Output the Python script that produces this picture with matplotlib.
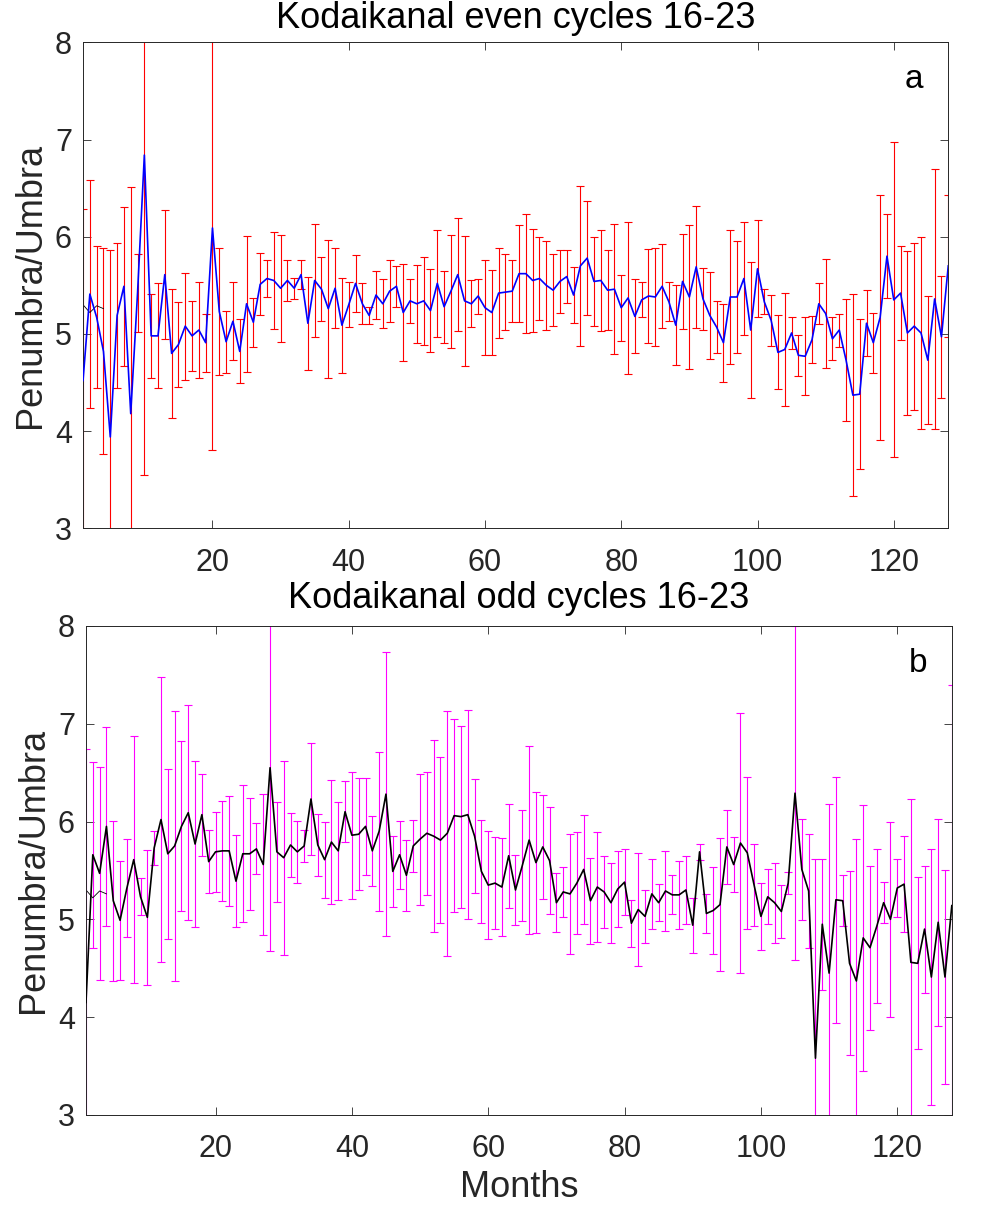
"""Penumbra/Umbra ratio per month, Kodaikanal even and odd cycles 16-23."""

import numpy as np
import matplotlib
matplotlib.use("Agg")
import matplotlib.pyplot as plt

plt.rcParams['font.family'] = ['Liberation Sans', 'DejaVu Sans']

months = np.arange(1, 129)

even_mean = [
    4.52, 5.41, 5.17, 4.82, 3.94, 5.19, 5.49, 4.18, 5.42, 6.84,
    4.98, 4.98, 5.61, 4.80, 4.89, 5.08, 4.98, 5.04, 4.91, 6.09,
    5.23, 4.92, 5.13, 4.82, 5.31, 5.12, 5.51, 5.57, 5.55, 5.47,
    5.55, 5.47, 5.61, 5.11, 5.55, 5.46, 5.26, 5.47, 5.09, 5.30,
    5.52, 5.31, 5.19, 5.40, 5.31, 5.44, 5.49, 5.22, 5.34, 5.31,
    5.34, 5.24, 5.52, 5.28, 5.44, 5.61, 5.34, 5.31, 5.39, 5.27,
    5.22, 5.42, 5.43, 5.44, 5.62, 5.62, 5.55, 5.57, 5.50, 5.45,
    5.54, 5.59, 5.40, 5.70, 5.78, 5.54, 5.55, 5.45, 5.46, 5.27,
    5.37, 5.18, 5.35, 5.39, 5.38, 5.49, 5.33, 5.09, 5.54, 5.38,
    5.69, 5.36, 5.19, 5.07, 4.91, 5.38, 5.38, 5.57, 5.04, 5.67,
    5.33, 5.14, 4.81, 4.84, 5.01, 4.78, 4.77, 4.94, 5.31, 5.21,
    4.95, 5.04, 4.73, 4.37, 4.38, 5.11, 4.91, 5.17, 5.80, 5.35,
    5.42, 5.01, 5.08, 5.01, 4.73, 5.36, 4.97, 5.70,
]
even_err = [
    1.77, 1.17, 0.73, 1.06, 1.92, 0.75, 0.82, 2.33, 0.40, 3.29,
    0.43, 0.54, 0.66, 0.66, 0.44, 0.55, 0.36, 0.49, 0.30, 2.28,
    0.65, 0.32, 0.40, 0.33, 0.70, 0.25, 0.32, 0.19, 0.50, 0.55,
    0.21, 0.11, 0.15, 0.48, 0.58, 0.33, 0.71, 0.41, 0.49, 0.23,
    0.29, 0.21, 0.09, 0.25, 0.25, 0.32, 0.21, 0.50, 0.23, 0.40,
    0.45, 0.43, 0.55, 0.37, 0.58, 0.58, 0.67, 0.24, 0.18, 0.49,
    0.44, 0.46, 0.39, 0.32, 0.50, 0.61, 0.53, 0.43, 0.46, 0.37,
    0.32, 0.27, 0.29, 0.82, 0.59, 0.46, 0.52, 0.41, 0.67, 0.34,
    0.78, 0.38, 0.18, 0.48, 0.50, 0.43, 0.20, 0.41, 0.49, 0.74,
    0.63, 0.32, 0.45, 0.27, 0.40, 0.69, 0.58, 0.58, 0.70, 0.50,
    0.13, 0.26, 0.38, 0.58, 0.16, 0.21, 0.40, 0.24, 0.21, 0.56,
    0.22, 0.17, 0.63, 1.04, 0.77, 0.34, 0.31, 1.26, 0.43, 1.62,
    0.48, 0.84, 0.86, 0.99, 0.66, 1.34, 0.63, 0.73,
]

odd_mean = [
    4.15, 5.66, 5.47, 5.95, 5.19, 4.99, 5.32, 5.61, 5.23, 5.02,
    5.73, 6.02, 5.67, 5.75, 5.95, 6.09, 5.77, 6.07, 5.59, 5.69,
    5.70, 5.70, 5.39, 5.67, 5.67, 5.72, 5.56, 6.55, 5.69, 5.63,
    5.76, 5.69, 5.75, 6.23, 5.76, 5.61, 5.79, 5.70, 6.10, 5.86,
    5.87, 5.95, 5.70, 5.90, 6.28, 5.49, 5.66, 5.45, 5.75, 5.82,
    5.88, 5.85, 5.81, 5.88, 6.06, 6.05, 6.07, 5.85, 5.49, 5.35,
    5.37, 5.33, 5.65, 5.30, 5.55, 5.81, 5.58, 5.74, 5.60, 5.17,
    5.28, 5.26, 5.37, 5.51, 5.19, 5.33, 5.28, 5.17, 5.31, 5.38,
    4.96, 5.10, 5.03, 5.26, 5.17, 5.29, 5.25, 5.25, 5.30, 4.94,
    5.69, 5.06, 5.09, 5.15, 5.74, 5.56, 5.78, 5.68, 5.35, 5.03,
    5.23, 5.17, 5.08, 5.37, 6.29, 5.51, 5.29, 3.58, 4.95, 4.45,
    5.20, 5.19, 4.55, 4.37, 4.81, 4.71, 4.93, 5.17, 5.00, 5.32,
    5.36, 4.56, 4.55, 4.90, 4.41, 4.97, 4.41, 5.14,
]
odd_err = [
    2.59, 0.95, 1.09, 1.02, 0.82, 0.61, 0.50, 1.26, 0.19, 0.69,
    0.17, 1.46, 0.87, 1.38, 0.87, 1.10, 0.85, 0.42, 0.32, 0.41,
    0.51, 0.56, 0.47, 0.70, 0.57, 0.26, 0.72, 1.87, 0.51, 0.99,
    0.33, 0.32, 0.16, 0.57, 0.32, 0.39, 0.63, 0.50, 0.31, 0.65,
    0.57, 0.50, 0.36, 0.81, 1.45, 0.36, 0.35, 0.36, 0.27, 0.67,
    0.63, 0.98, 0.85, 1.25, 0.99, 0.93, 1.07, 0.58, 0.53, 0.55,
    0.47, 0.50, 0.53, 0.36, 0.57, 0.96, 0.72, 0.53, 0.55, 0.30,
    0.26, 0.61, 0.52, 0.56, 0.44, 0.56, 0.37, 0.41, 0.39, 0.34,
    0.24, 0.58, 0.27, 0.36, 0.19, 0.41, 0.20, 0.35, 0.35, 0.28,
    0.08, 0.20, 0.44, 0.68, 0.38, 0.28, 1.33, 0.78, 0.42, 0.34,
    0.28, 0.41, 0.27, 0.11, 1.71, 0.52, 0.58, 2.04, 0.67, 1.73,
    1.26, 0.26, 0.94, 1.45, 1.36, 0.84, 0.79, 0.21, 1.00, 0.30,
    0.49, 1.67, 0.88, 0.65, 1.31, 1.06, 1.09, 2.26,
]

# short black trace seen at the start of both panels
stray_x = [1, 2, 3, 4]
stray_y = [5.30, 5.22, 5.29, 5.26]

xticks = [20, 40, 60, 80, 100, 120]
yticks = [3, 4, 5, 6, 7, 8]

AX_COLOR = '#262626'


def panel(ax, mean, err, bar_color, line_color, title, letter, title_pad):
    ax.errorbar(months, mean, yerr=err, fmt='none', ecolor=bar_color,
                elinewidth=0.8, capsize=2.8, capthick=0.8, zorder=2)
    ax.plot(stray_x, stray_y, color='k', lw=0.6, zorder=2)
    ax.plot(months, mean, color=line_color, lw=1.2, zorder=3)
    ax.set_xlim(1, 128)
    ax.set_ylim(3, 8)
    ax.set_xticks(xticks)
    ax.set_yticks(yticks)
    ax.tick_params(direction='in', length=5.5, width=0.6, top=True, right=True,
                   labelsize=22, colors=AX_COLOR)
    ax.tick_params(axis='x', pad=14)
    ax.tick_params(axis='y', pad=8)
    for sp in ax.spines.values():
        sp.set_linewidth(0.7)
        sp.set_color(AX_COLOR)
    ax.set_title(title, fontsize=26, pad=title_pad)
    ax.set_ylabel('Penumbra/Umbra', fontsize=26, color=AX_COLOR, labelpad=5)
    ax.text(123.0, 7.53, letter, fontsize=24, ha='center', va='baseline')


fig = plt.figure(figsize=(9.85, 12.09), dpi=100)
ax_a = fig.add_axes([0.0843, 0.563, 0.8784, 0.402])
ax_b = fig.add_axes([0.0873, 0.0778, 0.879, 0.4045])

panel(ax_a, even_mean, even_err, '#ff0000', '#0000ff',
      'Kodaikanal even cycles 16-23', 'a', 10.5)
panel(ax_b, odd_mean, odd_err, '#ff00ff', 'k',
      'Kodaikanal odd cycles 16-23', 'b', 13)
ax_b.set_xlabel('Months', fontsize=26, color=AX_COLOR, labelpad=4)

plt.savefig('out.png', dpi=100)
plt.close()
